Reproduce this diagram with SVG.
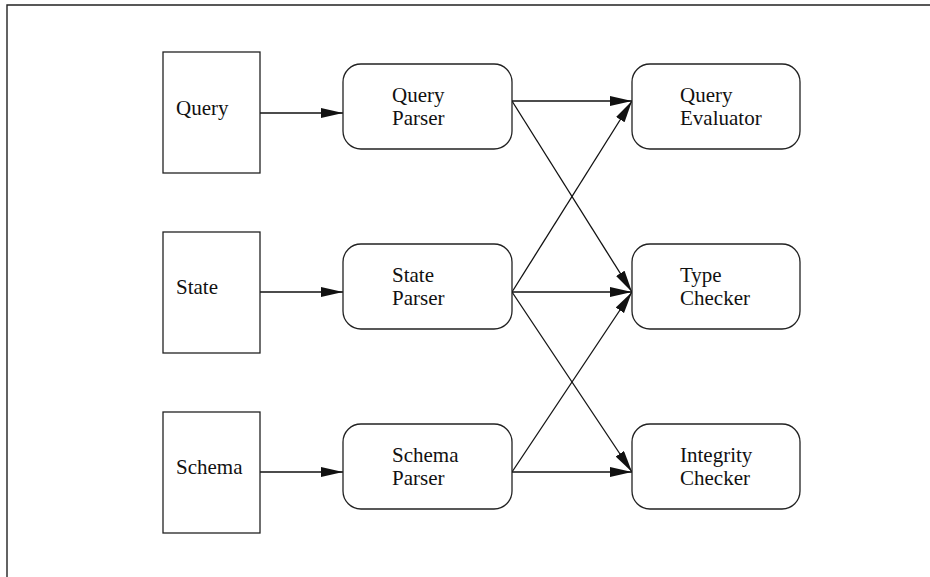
<svg xmlns="http://www.w3.org/2000/svg" width="930" height="577" viewBox="0 0 930 577">
  <style>
    .frame { fill: none; stroke: #222; stroke-width: 1.4; }
    .box { fill: #fff; stroke: #222; stroke-width: 1.3; }
    .edge { fill: none; stroke: #111; stroke-width: 1.3; marker-end: url(#head); }
    text { font-family: "Liberation Serif", "Times New Roman", serif; font-size: 21px; fill: #111; }
  </style>
  <defs>
    <marker id="head" markerUnits="userSpaceOnUse" markerWidth="24" markerHeight="11" refX="22" refY="5" orient="auto">
      <path d="M0,0 L22,5 L0,10 Z" fill="#111"/>
    </marker>
  </defs>

  <rect width="930" height="577" fill="#fff"/>
  <!-- page frame: top and left rules -->
  <path class="frame" d="M930,5 H7 V577"/>

  <g id="connectors">
    <line class="edge" x1="260" y1="113" x2="343" y2="113"/>
    <line class="edge" x1="260" y1="292" x2="343" y2="292"/>
    <line class="edge" x1="260" y1="472" x2="343" y2="472"/>
    <line class="edge" x1="512" y1="101" x2="632" y2="101"/>
    <line class="edge" x1="512" y1="101" x2="632" y2="292"/>
    <line class="edge" x1="512" y1="292" x2="632" y2="101"/>
    <line class="edge" x1="512" y1="292" x2="632" y2="292"/>
    <line class="edge" x1="512" y1="292" x2="632" y2="472"/>
    <line class="edge" x1="512" y1="472" x2="632" y2="292"/>
    <line class="edge" x1="512" y1="472" x2="632" y2="472"/>
  </g>

  <g id="query">
    <rect class="box" x="163" y="52" width="97" height="121"/>
    <text x="176" y="115">Query</text>
  </g>
  <g id="state">
    <rect class="box" x="163" y="232" width="97" height="121"/>
    <text x="176" y="294">State</text>
  </g>
  <g id="schema">
    <rect class="box" x="163" y="412" width="97" height="121"/>
    <text x="176" y="474">Schema</text>
  </g>

  <g id="query-parser">
    <rect class="box" x="343" y="64" width="169" height="85" rx="18"/>
    <text x="392" y="102">Query</text>
    <text x="392" y="125">Parser</text>
  </g>
  <g id="state-parser">
    <rect class="box" x="343" y="244" width="169" height="85" rx="18"/>
    <text x="392" y="282">State</text>
    <text x="392" y="305">Parser</text>
  </g>
  <g id="schema-parser">
    <rect class="box" x="343" y="424" width="169" height="85" rx="18"/>
    <text x="392" y="462">Schema</text>
    <text x="392" y="485">Parser</text>
  </g>

  <g id="query-evaluator">
    <rect class="box" x="632" y="64" width="168" height="85" rx="18"/>
    <text x="680" y="102">Query</text>
    <text x="680" y="125">Evaluator</text>
  </g>
  <g id="type-checker">
    <rect class="box" x="632" y="244" width="168" height="85" rx="18"/>
    <text x="680" y="282">Type</text>
    <text x="680" y="305">Checker</text>
  </g>
  <g id="integrity-checker">
    <rect class="box" x="632" y="424" width="168" height="85" rx="18"/>
    <text x="680" y="462">Integrity</text>
    <text x="680" y="485">Checker</text>
  </g>
</svg>
